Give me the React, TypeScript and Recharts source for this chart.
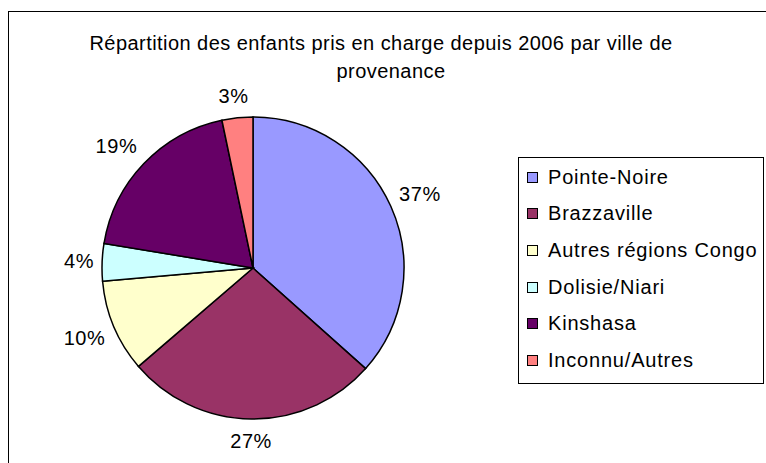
import { PieChart, Pie, Cell, Legend } from 'recharts';

const villes = ['Pointe-Noire', 'Brazzaville', 'Autres régions Congo', 'Dolisie/Niari', 'Kinshasa', 'Inconnu/Autres'];
const parts = [36.6, 27.1, 9.9, 4.0, 19.1, 3.3];
const couleurs = ['#9999FF', '#993366', '#FFFFCC', '#CCFFFF', '#660066', '#FF8080'];
const titre = ['Répartition des enfants pris en charge depuis 2006 par ville de', 'provenance'];

const data = villes.map((name, i) => ({ name, value: parts[i] }));

const FONT = '"Liberation Sans", Arial, sans-serif';
const RADIUS = 151;

const RADIAN = Math.PI / 180;
const clamp = (v: number) => Math.max(-1, Math.min(1, v));

// label box sits just outside the rim, pushed out by its own half size
const renderLabel = (props: any) => {
  const { cx, cy, midAngle, outerRadius, percent } = props;
  const dx = Math.cos(-midAngle * RADIAN);
  const dy = Math.sin(-midAngle * RADIAN);
  const text = `${Math.round(percent * 100)}%`;
  const halfW = text.length * 7;
  const halfH = 8;
  const x = cx + dx * (outerRadius + 9) + halfW * clamp(dx * 2);
  const y = cy + dy * (outerRadius + 14) + halfH * clamp(dy * 2);
  return (
    <text
      x={x}
      y={y}
      textAnchor="middle"
      dominantBaseline="central"
      fill="#000"
      fontSize={20}
      fontFamily={FONT}
      letterSpacing={0.6}
    >
      {text}
    </text>
  );
};

const renderLegend = () => (
  <div
    style={{
      width: 246,
      height: 227,
      boxSizing: 'border-box',
      border: '1px solid #000',
      background: '#fff',
      padding: '1px 0 0 8px',
      fontFamily: FONT,
      fontSize: 20,
      letterSpacing: 0.8,
      color: '#000',
    }}
  >
    {villes.map((v, i) => (
      <div key={v} style={{ height: 36.6, display: 'flex', alignItems: 'center', whiteSpace: 'nowrap' }}>
        <span
          style={{
            display: 'inline-block',
            width: 11,
            height: 11,
            boxSizing: 'border-box',
            border: '1.5px solid #000',
            background: couleurs[i],
            marginRight: 10,
          }}
        />
        {v}
      </div>
    ))}
  </div>
);

export default function App() {
  return (
    <div style={{ position: 'fixed', left: 0, top: 0, width: 766, height: 463, overflow: 'hidden', background: '#fff' }}>
      <div
        style={{
          position: 'absolute',
          left: 8,
          top: 11,
          width: 800,
          height: 500,
          border: '1px solid #000',
        }}
      />
      {titre.map((t, i) => (
        <div
          key={t}
          style={{
            position: 'absolute',
            left: 0,
            width: i === 0 ? 762 : 782,
            top: 33 + i * 28,
            lineHeight: '20px',
            textAlign: 'center',
            fontFamily: FONT,
            fontSize: 20,
            letterSpacing: 0.45,
            color: '#000',
            whiteSpace: 'nowrap',
          }}
        >
          {t}
        </div>
      ))}
      <div style={{ position: 'absolute', left: 0, top: 0 }}>
        <PieChart width={766} height={463} margin={{ top: 0, right: 0, bottom: 0, left: 0 }}>
          <Pie
            data={data}
            dataKey="value"
            nameKey="name"
            cx={253}
            cy={268}
            outerRadius={RADIUS}
            startAngle={90}
            endAngle={-270}
            stroke="#000"
            strokeWidth={1.5}
            label={renderLabel}
            labelLine={false}
            isAnimationActive={false}
          >
            {data.map((entry, index) => (
              <Cell key={`cell-${index}`} fill={couleurs[index]} />
            ))}
          </Pie>
          <Legend
            content={renderLegend}
            wrapperStyle={{ position: 'absolute', left: 518, top: 157, width: 246, height: 227 }}
          />
        </PieChart>
      </div>
    </div>
  );
}
